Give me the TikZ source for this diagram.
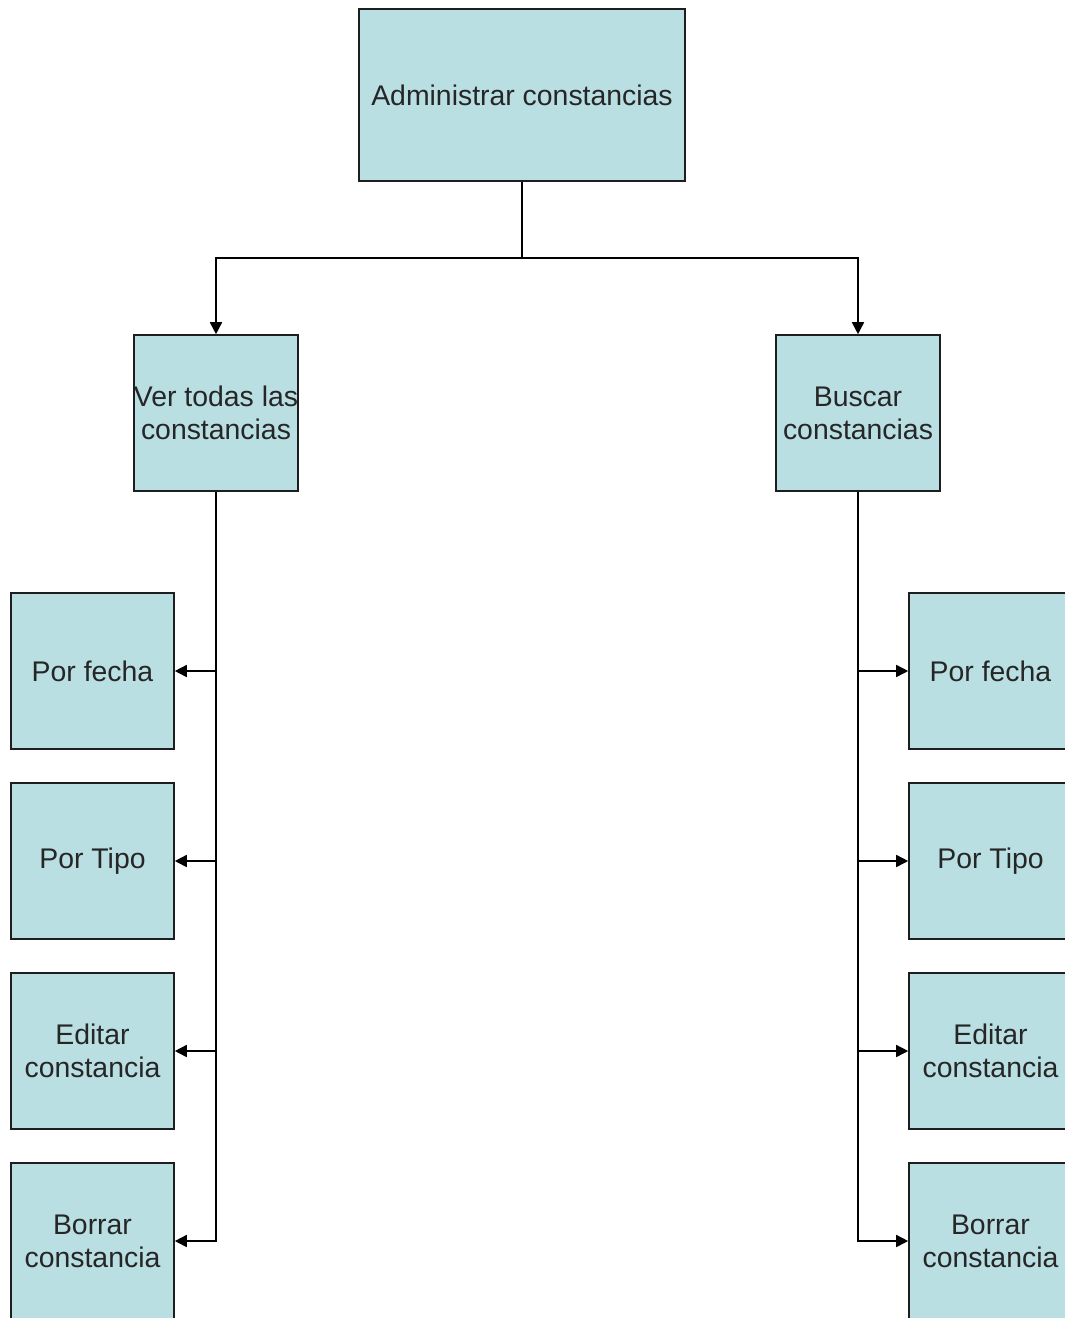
\documentclass[tikz,border=0pt]{standalone}
\usepackage{fontspec}
\setmainfont{Liberation Sans}
\usetikzlibrary{arrows.meta}
\definecolor{boxfill}{RGB}{185,223,227}
\definecolor{boxline}{RGB}{30,30,30}
\begin{document}
\begin{tikzpicture}[x=1pt,y=-1pt,
  box/.style={draw=boxline,line width=1.6pt,fill=boxfill,inner sep=0pt,
    align=center,font=\fontsize{28.4}{33}\selectfont,text=black!85},
  rootbox/.style={box,minimum width=326pt,minimum height=172pt},
  midbox/.style={box,minimum width=164pt,minimum height=156pt},
  leafbox/.style={box,minimum width=163pt,minimum height=156pt},
  link/.style={draw=black,line width=1.6pt},
  arr/.style={link,-{Triangle[length=12pt,width=12pt]}}]
\useasboundingbox (0,0) rectangle (1065,1318);
\clip (0,0) rectangle (1065,1318);
\fill[white] (0,0) rectangle (1065,1318);

% top level
\node[rootbox] (root) at (522,95) {Administrar constancias};

% second level
\node[midbox] (ver) at (216,413) {Ver todas las\\constancias};
\node[midbox] (bus) at (858,413) {Buscar\\constancias};

% options under "Ver todas las constancias"
\node[leafbox] (l1) at (92.5,671) {Por fecha};
\node[leafbox] (l2) at (92.5,861) {Por Tipo};
\node[leafbox] (l3) at (92.5,1051) {Editar\\constancia};
\node[leafbox] (l4) at (92.5,1241) {Borrar\\constancia};

% options under "Buscar constancias"
\node[leafbox] (r1) at (990.5,671) {Por fecha};
\node[leafbox] (r2) at (990.5,861) {Por Tipo};
\node[leafbox] (r3) at (990.5,1051) {Editar\\constancia};
\node[leafbox] (r4) at (990.5,1241) {Borrar\\constancia};

% root to second level
\coordinate (hub) at (522,258);
\draw[link] (root.south) -- (hub);
\draw[arr] (hub) -| (ver.north);
\draw[arr] (hub) -| (bus.north);

% left trunk
\draw[arr] (ver.south) |- (l4.east);
\draw[arr] (ver.south |- l1.east) -- (l1.east);
\draw[arr] (ver.south |- l2.east) -- (l2.east);
\draw[arr] (ver.south |- l3.east) -- (l3.east);

% right trunk
\draw[arr] (bus.south) |- (r4.west);
\draw[arr] (bus.south |- r1.west) -- (r1.west);
\draw[arr] (bus.south |- r2.west) -- (r2.west);
\draw[arr] (bus.south |- r3.west) -- (r3.west);
\end{tikzpicture}
\end{document}
